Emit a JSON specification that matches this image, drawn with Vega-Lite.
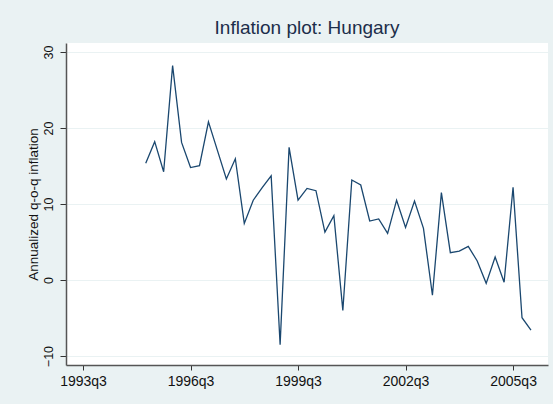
{
  "$schema": "https://vega.github.io/schema/vega-lite/v6.json",
  "width": 482,
  "height": 322,
  "autosize": {"type": "none"},
  "padding": {"left": 66, "top": 43, "right": 5, "bottom": 39},
  "background": "#EAF2F3",
  "title": {
    "text": "Inflation plot: Hungary",
    "font": "Liberation Sans",
    "fontSize": 19,
    "fontWeight": "normal",
    "color": "#1c2e4a",
    "anchor": "middle",
    "offset": 5
  },
  "config": {
    "view": {"fill": "white", "stroke": null},
    "axis": {
      "labelFont": "Liberation Sans",
      "titleFont": "Liberation Sans",
      "labelColor": "#111111",
      "titleColor": "#111111",
      "domainColor": "#555555",
      "domainWidth": 1.5,
      "tickColor": "#333333",
      "tickWidth": 1
    }
  },
  "data": {
    "values": [
      {"quarter": "1995q2", "t": 7, "inflation": 15.35},
      {"quarter": "1995q3", "t": 8, "inflation": 18.2},
      {"quarter": "1995q4", "t": 9, "inflation": 14.25},
      {"quarter": "1996q1", "t": 10, "inflation": 28.2},
      {"quarter": "1996q2", "t": 11, "inflation": 18.1},
      {"quarter": "1996q3", "t": 12, "inflation": 14.8},
      {"quarter": "1996q4", "t": 13, "inflation": 15.05},
      {"quarter": "1997q1", "t": 14, "inflation": 20.8},
      {"quarter": "1997q2", "t": 15, "inflation": 17.05},
      {"quarter": "1997q3", "t": 16, "inflation": 13.3},
      {"quarter": "1997q4", "t": 17, "inflation": 15.95},
      {"quarter": "1998q1", "t": 18, "inflation": 7.45},
      {"quarter": "1998q2", "t": 19, "inflation": 10.5},
      {"quarter": "1998q3", "t": 20, "inflation": 12.15},
      {"quarter": "1998q4", "t": 21, "inflation": 13.7},
      {"quarter": "1999q1", "t": 22, "inflation": -8.5},
      {"quarter": "1999q2", "t": 23, "inflation": 17.45},
      {"quarter": "1999q3", "t": 24, "inflation": 10.5},
      {"quarter": "1999q4", "t": 25, "inflation": 12.05},
      {"quarter": "2000q1", "t": 26, "inflation": 11.75},
      {"quarter": "2000q2", "t": 27, "inflation": 6.3},
      {"quarter": "2000q3", "t": 28, "inflation": 8.47},
      {"quarter": "2000q4", "t": 29, "inflation": -4.0},
      {"quarter": "2001q1", "t": 30, "inflation": 13.16},
      {"quarter": "2001q2", "t": 31, "inflation": 12.5},
      {"quarter": "2001q3", "t": 32, "inflation": 7.76},
      {"quarter": "2001q4", "t": 33, "inflation": 8.03},
      {"quarter": "2002q1", "t": 34, "inflation": 6.14},
      {"quarter": "2002q2", "t": 35, "inflation": 10.5},
      {"quarter": "2002q3", "t": 36, "inflation": 6.93},
      {"quarter": "2002q4", "t": 37, "inflation": 10.4},
      {"quarter": "2003q1", "t": 38, "inflation": 6.8},
      {"quarter": "2003q2", "t": 39, "inflation": -2.0},
      {"quarter": "2003q3", "t": 40, "inflation": 11.5},
      {"quarter": "2003q4", "t": 41, "inflation": 3.6},
      {"quarter": "2004q1", "t": 42, "inflation": 3.8},
      {"quarter": "2004q2", "t": 43, "inflation": 4.43},
      {"quarter": "2004q3", "t": 44, "inflation": 2.5},
      {"quarter": "2004q4", "t": 45, "inflation": -0.44},
      {"quarter": "2005q1", "t": 46, "inflation": 3.03},
      {"quarter": "2005q2", "t": 47, "inflation": -0.3},
      {"quarter": "2005q3", "t": 48, "inflation": 12.2},
      {"quarter": "2005q4", "t": 49, "inflation": -4.96},
      {"quarter": "2006q1", "t": 50, "inflation": -6.58}
    ]
  },
  "mark": {"type": "line", "color": "#1a476f", "strokeWidth": 1.3},
  "encoding": {
    "x": {
      "field": "t",
      "type": "quantitative",
      "scale": {"domain": [-1.9, 51.9], "nice": false, "zero": false},
      "axis": {
        "title": null,
        "values": [0, 12, 24, 36, 48],
        "labelExpr": "(1993 + floor((datum.value + 2) / 4)) + 'q' + ((datum.value + 2) % 4 + 1)",
        "grid": false,
        "tickSize": 5,
        "labelPadding": 4,
        "labelFontSize": 14,
        "labelFlush": false
      }
    },
    "y": {
      "field": "inflation",
      "type": "quantitative",
      "scale": {"domain": [-11.18, 31.18], "nice": false, "zero": false},
      "axis": {
        "title": "Annualized q-o-q inflation",
        "titleFontSize": 13.5,
        "titleFontWeight": "normal",
        "titlePadding": 2,
        "values": [-10, 0, 10, 20, 30],
        "labelAngle": -90,
        "labelAlign": "center",
        "labelBaseline": "bottom",
        "labelFontSize": 12.5,
        "labelPadding": 5,
        "tickSize": 6,
        "grid": true,
        "gridColor": "#EAF2F3",
        "gridWidth": 1.2
      }
    }
  }
}
